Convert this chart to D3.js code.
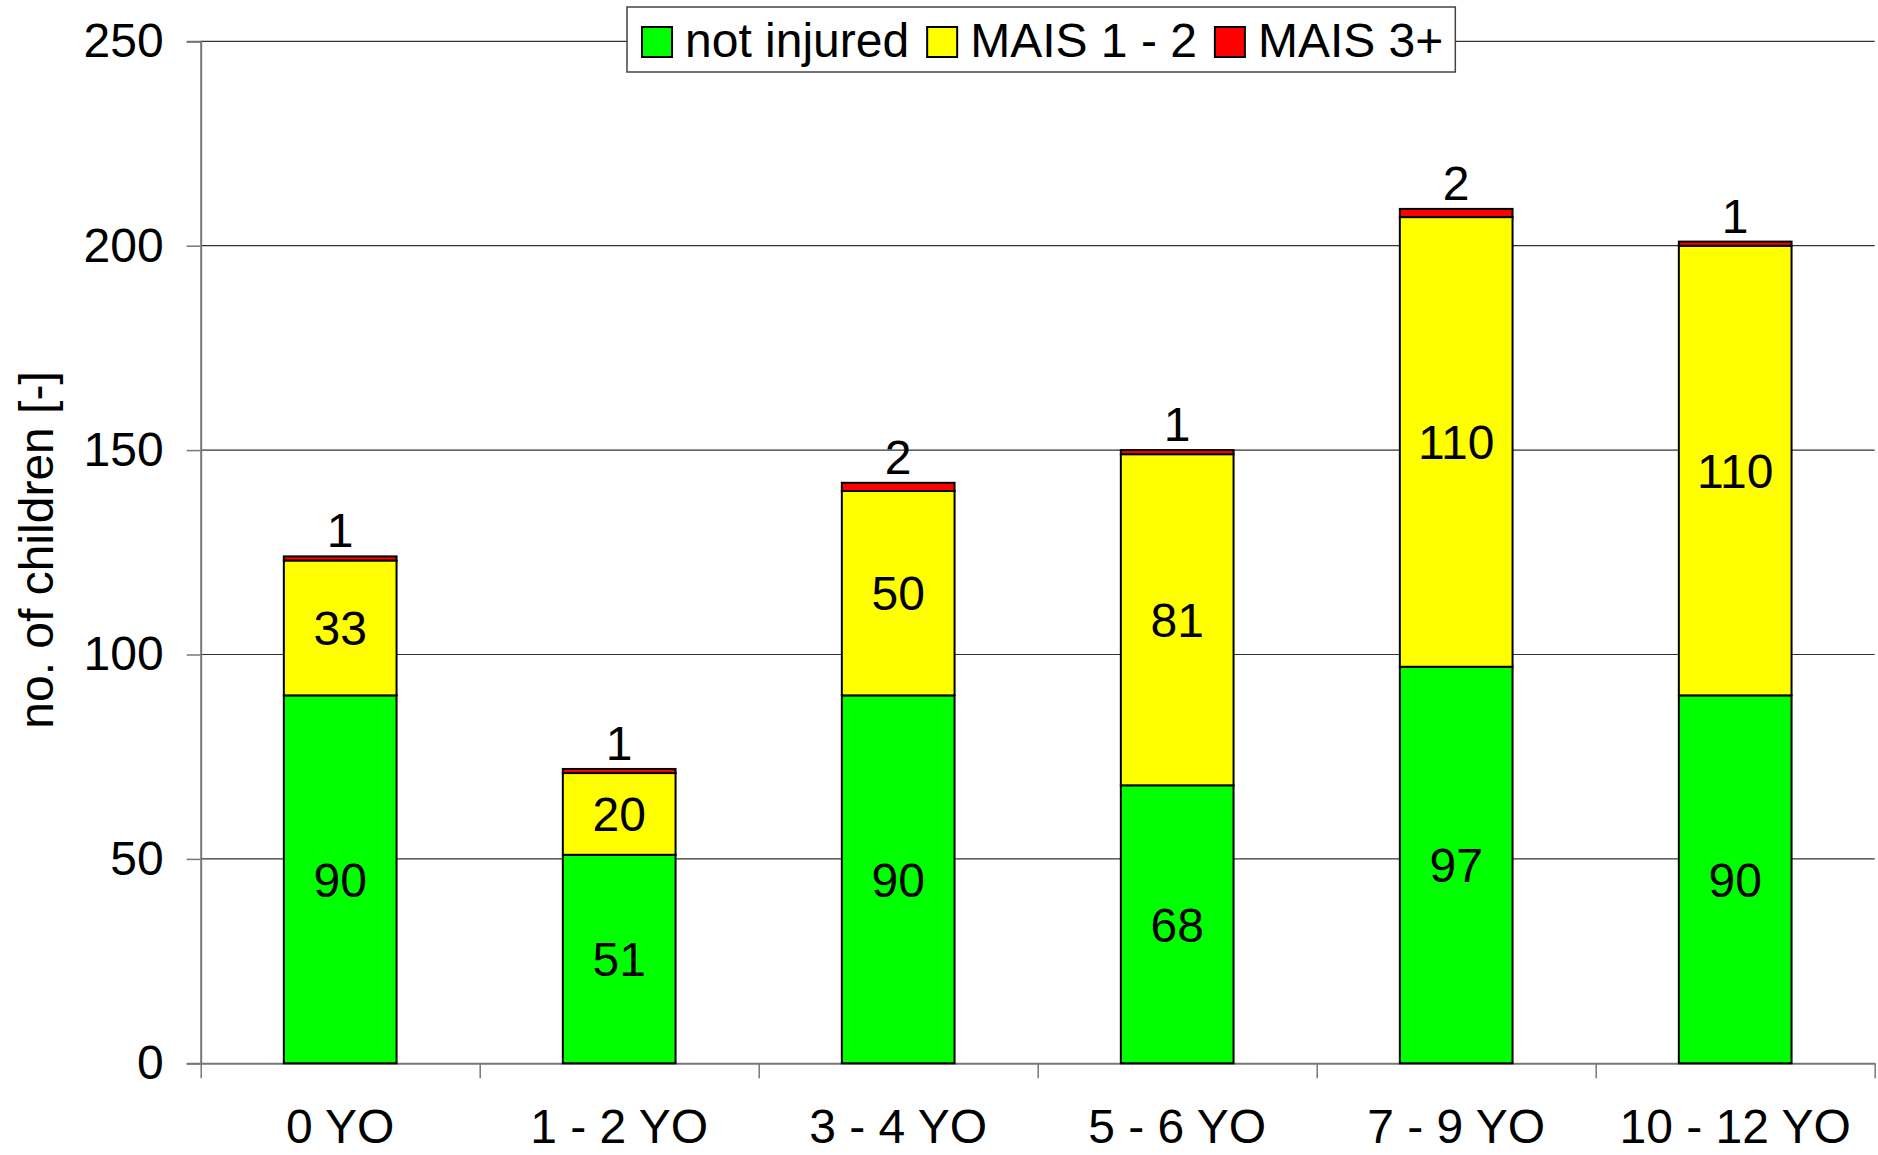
<!DOCTYPE html>
<html>
<head>
<meta charset="utf-8">
<script src="https://cdn.jsdelivr.net/npm/d3@7"></script>
<style>
  html, body { margin: 0; padding: 0; background: #fff; }
  svg { display: block; font-family: Arial, "Liberation Sans", sans-serif; }
</style>
</head>
<body>
<svg id="chart" width="1878" height="1155"></svg>
<script>
const categories = ["0 YO", "1 - 2 YO", "3 - 4 YO", "5 - 6 YO", "7 - 9 YO", "10 - 12 YO"];
const notInjured = [90, 51, 90, 68, 97, 90];
const mais12 = [33, 20, 50, 81, 110, 110];
const mais3 = [1, 1, 2, 1, 2, 1];
const seriesNames = ["not injured", "MAIS 1 - 2", "MAIS 3+"];
const seriesColors = ["#00ff00", "#ffff00", "#ff0000"];
const yTicks = [0, 50, 100, 150, 200, 250];
const yTitle = "no. of children [-]";

const svg = d3.select("#chart");
const plotLeft = 200.7, plotRight = 1874.7, plotTop = 41.3, plotBottom = 1063.3;
const FS = 48;

const y = d3.scaleLinear().domain([0, 250]).range([plotBottom, plotTop]);
const x = d3.scaleBand().domain(categories).range([plotLeft, plotRight])
  .paddingInner(0.596).paddingOuter(0.298);
const edges = d3.scaleLinear().domain([0, categories.length]).range([plotLeft, plotRight]);

// gridlines
svg.append("g").selectAll("line").data(yTicks.filter(d => d > 0)).join("line")
  .attr("x1", plotLeft).attr("x2", plotRight)
  .attr("y1", d => y(d)).attr("y2", d => y(d))
  .attr("stroke", "#333").attr("stroke-width", 1.2);

// y axis
const yAxis = svg.append("g").attr("transform", `translate(${plotLeft},0)`)
  .call(d3.axisLeft(y).tickValues(yTicks).tickSize(14).tickPadding(23).tickFormat(d3.format("d")));
yAxis.select(".domain").attr("stroke", "#777").attr("stroke-width", 2);
yAxis.selectAll(".tick line").attr("stroke", "#777").attr("stroke-width", 1.5);
yAxis.selectAll(".tick text").attr("font-size", FS).attr("font-family", "Arial, 'Liberation Sans', sans-serif").attr("fill", "#000");

// x axis (ticks at band edges)
const xAxis = svg.append("g").attr("transform", `translate(0,${plotBottom})`)
  .call(d3.axisBottom(edges).tickValues(d3.range(categories.length + 1)).tickSize(15).tickSizeOuter(0).tickFormat(""));
xAxis.select(".domain").attr("stroke", "#777").attr("stroke-width", 2);
xAxis.selectAll(".tick line").attr("stroke", "#777").attr("stroke-width", 1.5);

// category labels
svg.append("g").selectAll("text").data(categories).join("text")
  .attr("x", d => x(d) + x.bandwidth() / 2)
  .attr("y", 1143)
  .attr("text-anchor", "middle")
  .attr("font-size", FS)
  .text(d => d);

// stacked data
const rows = categories.map((c, i) => ({cat: c, a: notInjured[i], b: mais12[i], c: mais3[i]}));
const stack = d3.stack().keys(["a", "b", "c"])(rows);

const gBars = svg.append("g");
stack.forEach((layer, li) => {
  gBars.append("g").selectAll("rect").data(layer).join("rect")
    .attr("x", d => x(d.data.cat))
    .attr("width", x.bandwidth())
    .attr("y", d => y(d[1]))
    .attr("height", d => y(d[0]) - y(d[1]))
    .attr("fill", seriesColors[li])
    .attr("stroke", "#000").attr("stroke-width", 2);
});

// labels
const gLab = svg.append("g").attr("font-size", FS).attr("text-anchor", "middle");
stack.forEach((layer, li) => {
  gLab.append("g").selectAll("text").data(layer).join("text")
    .attr("x", d => x(d.data.cat) + x.bandwidth() / 2)
    .attr("y", d => li === 2 ? y(d[1]) - 9 : (y(d[0]) + y(d[1])) / 2)
    .attr("dy", li === 2 ? 0 : "0.36em")
    .text(d => d[1] - d[0]);
});

// y title
svg.append("text")
  .attr("transform", `translate(53,550) rotate(-90)`)
  .attr("text-anchor", "middle")
  .attr("font-size", FS)
  .text(yTitle);

// legend
const lg = svg.append("g");
const box = lg.append("rect").attr("x", 627).attr("y", 7).attr("height", 65)
  .attr("fill", "#fff").attr("stroke", "#444").attr("stroke-width", 1.5);
let cx = 642;
seriesNames.forEach((n, i) => {
  lg.append("rect").attr("x", cx).attr("y", 27).attr("width", 30).attr("height", 30)
    .attr("fill", seriesColors[i]).attr("stroke", "#000").attr("stroke-width", 2);
  const t = lg.append("text").attr("x", cx + 43).attr("y", 57).attr("font-size", FS).text(n);
  cx = cx + 43 + t.node().getComputedTextLength() + 18;
});
box.attr("width", cx - 18 + 12 - 627);
</script>
</body>
</html>
